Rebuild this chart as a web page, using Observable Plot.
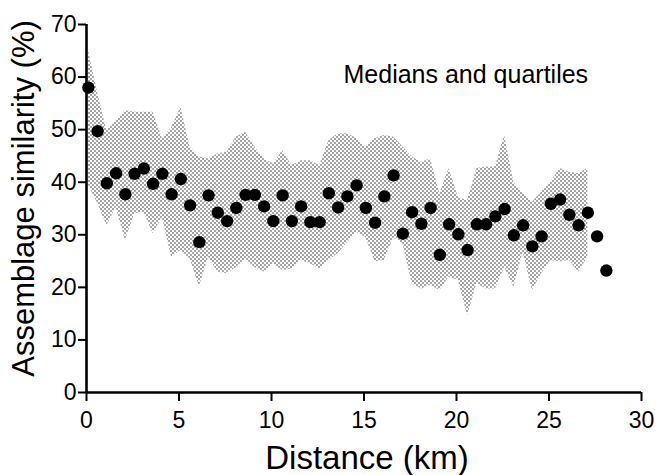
<!DOCTYPE html>
<html>
<head>
<meta charset="utf-8">
<script src="https://cdn.jsdelivr.net/npm/d3@7"></script>
<script src="https://cdn.jsdelivr.net/npm/@observablehq/plot@0.6"></script>
<style>
  html, body { margin: 0; padding: 0; background: #fff; }
  svg { display: block; }
</style>
</head>
<body>
<div id="chart"></div>
<script>
// Distance (km) of each distance class
const distance = [0.1, 0.6, 1.1, 1.6, 2.1, 2.6, 3.1, 3.6, 4.1, 4.6,
  5.1, 5.6, 6.1, 6.6, 7.1, 7.6, 8.1, 8.6, 9.1, 9.6,
  10.1, 10.6, 11.1, 11.6, 12.1, 12.6, 13.1, 13.6, 14.1, 14.6,
  15.1, 15.6, 16.1, 16.6, 17.1, 17.6, 18.1, 18.6, 19.1, 19.6,
  20.1, 20.6, 21.1, 21.6, 22.1, 22.6, 23.1, 23.6, 24.1, 24.6,
  25.1, 25.6, 26.1, 26.6, 27.1, 27.6, 28.1];

// Median assemblage similarity (%)
const median = [58.0, 49.7, 39.8, 41.7, 37.7, 41.6, 42.6, 39.7, 41.6, 37.7,
  40.6, 35.6, 28.6, 37.5, 34.2, 32.6, 35.1, 37.6, 37.6, 35.4,
  32.6, 37.5, 32.6, 35.4, 32.4, 32.4, 37.9, 35.2, 37.3, 39.4,
  35.1, 32.3, 37.3, 41.3, 30.2, 34.3, 32.1, 35.1, 26.2, 32.0,
  30.1, 27.1, 32.0, 32.0, 33.5, 34.9, 29.9, 31.8, 27.8, 29.7,
  35.9, 36.7, 33.8, 31.8, 34.2, 29.7, 23.2];

// Upper quartile (%) for the first 55 distance classes
const upperQuartile = [65.2, 57.0, 49.8, 51.7, 53.6, 53.3, 53.3, 53.3, 48.3, 50.3,
  54.3, 46.7, 44.8, 44.4, 45.4, 45.7, 48.6, 49.5, 46.7, 44.4,
  43.5, 46.0, 43.2, 44.1, 44.1, 43.2, 47.9, 49.2, 49.2, 48.3,
  46.7, 48.3, 48.9, 48.6, 46.7, 44.8, 43.8, 44.4, 37.8, 42.6,
  37.1, 36.5, 42.6, 42.9, 42.9, 48.9, 40.0, 37.8, 36.2, 38.1,
  40.0, 42.6, 41.9, 41.6, 42.6];

// Lower quartile (%) for the first 55 distance classes
const lowerQuartile = [39.5, 36.0, 31.7, 35.2, 28.9, 34.0, 34.3, 30.2, 33.3, 25.7,
  27.0, 25.4, 20.1, 25.7, 22.9, 22.6, 23.8, 25.4, 23.8, 22.9,
  24.5, 23.2, 23.5, 25.1, 24.5, 23.5, 25.1, 26.4, 28.5, 30.5,
  29.5, 24.8, 25.1, 29.5, 28.3, 20.7, 19.7, 20.4, 19.4, 21.9,
  21.3, 14.6, 20.7, 19.7, 19.7, 23.8, 20.0, 26.7, 19.4, 22.6,
  25.1, 24.8, 25.1, 22.9, 25.7];

const xTicks = [0, 5, 10, 15, 20, 25, 30];
const yTicks = [0, 10, 20, 30, 40, 50, 60, 70];
const xLabel = "Distance (km)";
const yLabel = "Assemblage similarity (%)";
const note = "Medians and quartiles";

const points = distance.map((d, i) => ({distance: d, median: median[i]}));
const band = upperQuartile.map((u, i) => ({distance: distance[i], lo: lowerQuartile[i], hi: u}));

const font = "'Liberation Sans', Arial, Helvetica, sans-serif";

const svg = Plot.plot({
  width: 657,
  height: 475,
  marginLeft: 86,
  marginRight: 16,
  marginTop: 24,
  marginBottom: 83,
  style: {fontFamily: font, fontSize: "23px", color: "#000", background: "#fff", overflow: "visible"},
  x: {domain: [0, 30]},
  y: {domain: [0, 70]},
  marks: [
    Plot.areaY(band, {x: "distance", y1: "lo", y2: "hi", fill: "url(#stipple)", curve: "linear"}),
    Plot.dot(points, {x: "distance", y: "median", r: 6.2, fill: "#000", stroke: "none"}),
    Plot.ruleX([0], {stroke: "#000", strokeWidth: 2.6}),
    Plot.ruleY([0], {stroke: "#000", strokeWidth: 2.6}),
    Plot.axisX({ticks: xTicks, tickSize: 9, tickPadding: 10, strokeWidth: 2, fontSize: 23, label: null}),
    Plot.axisY({ticks: yTicks, tickSize: 8, tickPadding: 2, strokeWidth: 2, fontSize: 23, label: null}),
    Plot.text([xLabel], {frameAnchor: "bottom", textAnchor: "middle", lineAnchor: "bottom", dx: 3, dy: 76, fontSize: 33, fill: "#000"}),
    Plot.text([yLabel], {frameAnchor: "left", textAnchor: "middle", lineAnchor: "bottom", rotate: -90, dx: -53, dy: -10, fontSize: 31, fill: "#000"}),
    Plot.text([note], {frameAnchor: "top-left", textAnchor: "start", lineAnchor: "middle", dx: 257, dy: 50, fontSize: 25, fill: "#000"})
  ]
});

// stipple (halftone) pattern for the quartile band
const ns = "http://www.w3.org/2000/svg";
const defs = document.createElementNS(ns, "defs");
const pat = document.createElementNS(ns, "pattern");
pat.setAttribute("id", "stipple");
pat.setAttribute("patternUnits", "userSpaceOnUse");
pat.setAttribute("width", "4");
pat.setAttribute("height", "4");
for (const [cx, cy] of [[1, 1], [3, 3]]) {
  const c = document.createElementNS(ns, "circle");
  c.setAttribute("cx", cx);
  c.setAttribute("cy", cy);
  c.setAttribute("r", "0.8");
  c.setAttribute("fill", "#333");
  pat.appendChild(c);
}
defs.appendChild(pat);
svg.insertBefore(defs, svg.firstChild);

document.getElementById("chart").appendChild(svg);
</script>
</body>
</html>
